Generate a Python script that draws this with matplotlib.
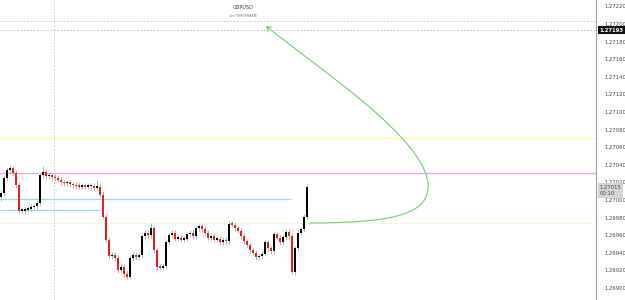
import matplotlib
matplotlib.use("Agg")
import matplotlib.pyplot as plt
import numpy as np
from matplotlib.patches import FancyArrowPatch
from matplotlib.path import Path
from matplotlib.transforms import blended_transform_factory

# GBPUSD 1m candles (closes, open of each = previous close)
first_open = 1.27003
closes = [1.27008, 1.27025, 1.27034, 1.27036, 1.27031, 1.27017, 1.26988, 1.26988, 1.26989, 1.26990,
          1.26992, 1.26993, 1.26997, 1.27028, 1.27032, 1.27027, 1.27028, 1.27026, 1.27025, 1.27023,
          1.27020, 1.27019, 1.27020, 1.27018, 1.27017, 1.27016, 1.27015, 1.27016, 1.27015, 1.27016,
          1.27016, 1.27014, 1.27015, 1.27006, 1.26981, 1.26955, 1.26936, 1.26938, 1.26934, 1.26920,
          1.26924, 1.26916, 1.26913, 1.26934, 1.26938, 1.26935, 1.26938, 1.26959, 1.26963, 1.26960,
          1.26968, 1.26943, 1.26924, 1.26923, 1.26925, 1.26952, 1.26960, 1.26963, 1.26956, 1.26957,
          1.26955, 1.26956, 1.26961, 1.26963, 1.26959, 1.26968, 1.26970, 1.26967, 1.26963, 1.26957,
          1.26959, 1.26955, 1.26956, 1.26952, 1.26955, 1.26953, 1.26973, 1.26972, 1.26968, 1.26965,
          1.26959, 1.26953, 1.26949, 1.26943, 1.26940, 1.26935, 1.26936, 1.26939, 1.26952, 1.26945,
          1.26942, 1.26961, 1.26957, 1.26952, 1.26958, 1.26964, 1.26959, 1.26918, 1.26945, 1.26963,
          1.26967, 1.26981, 1.27015]
spike_high = {3: 1.27040, 14: 1.27039, 32: 1.27023, 50: 1.26974, 102: 1.27019}
spike_low = {0: 1.26999, 42: 1.26909, 97: 1.26916}

price_ticks = [1.26900, 1.26920, 1.26940, 1.26960, 1.26980, 1.27000, 1.27020, 1.27040, 1.27060,
               1.27080, 1.27100, 1.27120, 1.27140, 1.27160, 1.27180, 1.27200, 1.27220]

# levels
lvl_green_dash = 1.27203
lvl_bid = 1.27193
lvl_yellow = 1.27070
lvl_purple = 1.27031
lvl_cyan1 = 1.27001
lvl_cyan2 = 1.26989
lvl_yellow_dot = 1.26974
vline_idx = 17.7
last_price = 1.27015

fig = plt.figure(figsize=(6.25, 3), dpi=100)
ax = fig.add_axes([0, 0, 596 / 625, 1])
ax.set_xlim(-0.33, 198.3)
ax.set_ylim(1.268864, 1.272272)

opens = [first_open] + closes[:-1]
x = np.arange(len(closes))
wick = 0.00003
for i in x:
    o, c = opens[i], closes[i]
    hi = spike_high.get(i, max(o, c) + wick)
    lo = spike_low.get(i, min(o, c) - wick)
    ax.vlines(i, lo, hi, color='#b4b4b4', lw=0.7, zorder=2)
    col = 'black' if c >= o else '#f01c1c'
    ax.bar(i, max(abs(c - o), 0.000015), bottom=min(o, c), width=0.72, color=col, zorder=3)

ax.axhline(lvl_green_dash, color='#8fe08f', lw=0.6, ls=(0, (2, 2)), zorder=1)
ax.axhline(lvl_bid, color='#b8b8b8', lw=0.6, ls=(0, (2, 2)), zorder=1)
ax.axhline(lvl_yellow, color='#ffff99', lw=1.0, zorder=1)
ax.axhline(lvl_purple, color='#dcaee6', lw=1.0, zorder=1)
ax.axhline(lvl_yellow_dot, color='#f2f2a0', lw=0.6, ls=(0, (2, 2)), zorder=1)
ax.hlines(lvl_cyan1, -0.33, 96.7, color='#8ee0ea', lw=0.9, zorder=1)
ax.hlines(lvl_cyan2, -0.33, 33.0, color='#8ee0ea', lw=0.9, zorder=1)
ax.axvline(vline_idx, color='#c8c8c8', lw=0.6, ls=(0, (2, 2)), zorder=1)

# curved green arrow, in data coords (index, price)
def pt(px, py):
    return ((px - 1) / 3, 1.27000 + (200 - py) * 0.00001136)

verts = [pt(310, 223), pt(400, 223), pt(428, 212), pt(428, 186),
         pt(428, 140), pt(320, 70), pt(266, 26)]
codes = [Path.MOVETO, Path.CURVE4, Path.CURVE4, Path.CURVE4,
         Path.CURVE4, Path.CURVE4, Path.CURVE4]
arrow = FancyArrowPatch(path=Path(verts, codes), arrowstyle='->,head_length=3,head_width=2',
                        color='#6fd06f', lw=0.8, zorder=4)
ax.add_patch(arrow)

ax.text(0.408, 0.975, 'GBPUSD', transform=ax.transAxes, ha='center', va='center',
        fontsize=3.6, color='#444444')
ax.text(0.408, 0.948, '1m TIMEFRAME', transform=ax.transAxes, ha='center', va='center',
        fontsize=2.6, color='#777777')

for s in ['top', 'left', 'bottom']:
    ax.spines[s].set_visible(False)
ax.spines['right'].set_color('#a0a0a0')
ax.spines['right'].set_linewidth(0.8)
ax.set_xticks([])
ax.yaxis.tick_right()
ax.set_yticks(price_ticks)
ax.set_yticklabels([f'{p:.5f}' for p in price_ticks])
ax.tick_params(axis='y', length=0, pad=6, labelsize=3.8, labelcolor='#444444')

tr = blended_transform_factory(ax.transAxes, ax.transData)
ax.text(1.006, lvl_bid, f'{lvl_bid:.5f}', transform=tr, ha='left', va='center', fontsize=3.8,
        color='white', fontweight='bold',
        bbox=dict(boxstyle='square,pad=0.35', fc='#111111', ec='none'), clip_on=False)
ax.text(1.006, last_price - 0.00004, f'{last_price:.5f}\n00:10', transform=tr, ha='left',
        va='center', fontsize=3.8, color='#444444', linespacing=1.3,
        bbox=dict(boxstyle='square,pad=0.35', fc='#d6d6d6', ec='none'), clip_on=False)

fig.savefig('out.png', dpi=100)
